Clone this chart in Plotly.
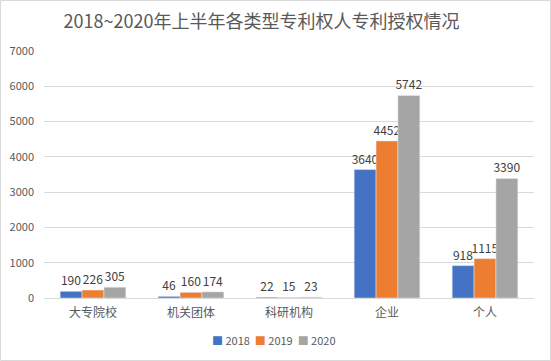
import plotly.graph_objects as go

categories = ["大专院校", "机关团体", "科研机构", "企业", "个人"]
years = ["2018", "2019", "2020"]
v2018 = [190, 46, 22, 3640, 918]
v2019 = [226, 160, 15, 4452, 1115]
v2020 = [305, 174, 23, 5742, 3390]
colors = ["#4472C4", "#ED7D31", "#A5A5A5"]

font_family = "Noto Sans CJK SC, DejaVu Sans, sans-serif"
W, H = 551, 361
L, R, T, B = 44, 17, 51, 63
pw, ph = W - L - R, H - T - B

fig = go.Figure()
for name, vals, c in zip(years, [v2018, v2019, v2020], colors):
    fig.add_trace(go.Bar(
        x=categories, y=vals, name=name, marker_color=c,
        text=[str(v) for v in vals], textposition="outside",
        textfont=dict(size=12, color="#404040", family=font_family),
        cliponaxis=False, showlegend=False,
    ))

legend_text = "  ".join(
    f"<span style='color:{c}'>■</span> {y}" for y, c in zip(years, colors)
)

fig.update_layout(
    width=W, height=H,
    margin=dict(l=L, r=R, t=T, b=B),
    paper_bgcolor="white", plot_bgcolor="white",
    barmode="group", bargap=0.33, bargroupgap=0,
    uniformtext=dict(minsize=12, mode="show"),
    title=dict(text="2018~2020年上半年各类型专利权人专利授权情况",
               xref="container", x=261.5 / W, xanchor="center",
               yref="container", y=1 - 22 / H, yanchor="middle",
               font=dict(size=18, color="#595959", family=font_family)),
    font=dict(family=font_family, color="#595959", size=11),
    yaxis=dict(range=[0, 7000], dtick=1000, showgrid=True, gridcolor="#D9D9D9",
               gridwidth=1, zeroline=False, showline=False, ticks="",
               automargin=False,
               tickfont=dict(size=11, color="#595959"), ticklabelstandoff=9),
    xaxis=dict(showline=True, linecolor="#D9D9D9", linewidth=1, ticks="",
               automargin=False, ticklabelstandoff=4,
               tickfont=dict(size=12, color="#595959")),
    annotations=[dict(text=legend_text, xref="paper", yref="paper",
                      x=(274 - L) / pw, y=-(340 - (T + ph)) / ph,
                      xanchor="center", yanchor="middle", showarrow=False,
                      font=dict(size=11, color="#595959", family=font_family))],
)
fig.add_shape(type="rect", xref="paper", yref="paper",
              x0=-L / pw + 0.5 / pw, x1=1 + R / pw - 0.5 / pw,
              y0=-B / ph + 0.5 / ph, y1=1 + T / ph - 0.5 / ph,
              line=dict(color="#D9D9D9", width=1))
fig.write_html("out.html", config={"displayModeBar": False},
               post_script="document.body.style.margin='0';")
